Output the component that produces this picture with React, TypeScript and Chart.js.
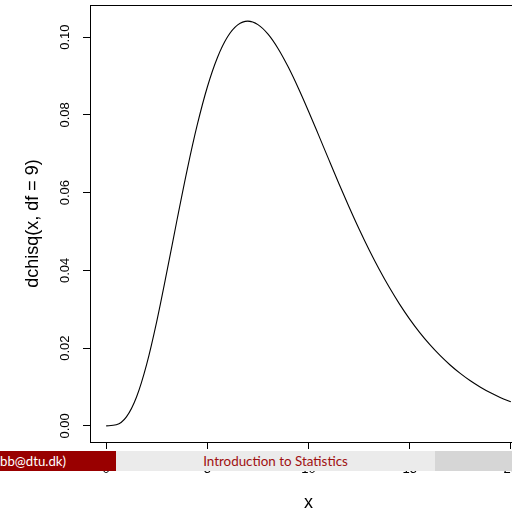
import React, { useEffect, useRef } from "react";
import { Chart, registerables } from "chart.js";

Chart.register(...registerables);

const xValues = [
  0, 0.5, 1, 1.5, 2, 2.5, 3, 3.5, 4, 4.5, 5, 5.5, 6, 6.5, 7, 7.5, 8, 8.5, 9, 9.5,
  10, 10.5, 11, 11.5, 12, 12.5, 13, 13.5, 14, 14.5, 15, 15.5, 16, 16.5, 17, 17.5,
  18, 18.5, 19, 19.5, 20,
];
const densityValues = [
  0, 0.00026, 0.0023, 0.00742, 0.01581, 0.02689, 0.03965, 0.05296, 0.06582,
  0.07741, 0.08718, 0.09477, 0.10009, 0.10315, 0.10412, 0.10324, 0.10078,
  0.09704, 0.09231, 0.08687, 0.08096, 0.07479, 0.06855, 0.06237, 0.05638,
  0.05065, 0.04525, 0.04022, 0.03557, 0.03132, 0.02747, 0.02399, 0.02088,
  0.01811, 0.01566, 0.0135, 0.0116, 0.00995, 0.0085, 0.00725, 0.00617,
];
const xTicks = [0, 5, 10, 15, 20];
const yTicks = [0, 0.02, 0.04, 0.06, 0.08, 0.1];
const xTitle = "x";
const yTitle = "dchisq(x, df = 9)";
const footerLeft = "bb@dtu.dk)";
const footerMid = "Introduction to Statistics";

const FONT = "'Liberation Sans', Arial, Helvetica, sans-serif";
const FOOT_FONT = "Lato, 'DejaVu Sans', sans-serif";

const boxPlugin = {
  id: "rbox",
  afterDraw(chart: any) {
    const { ctx, chartArea } = chart;
    ctx.save();
    ctx.strokeStyle = "#000";
    ctx.lineWidth = 1;
    ctx.strokeRect(
      Math.round(chartArea.left) + 0.5,
      Math.round(chartArea.top) + 0.5,
      Math.round(chartArea.right - chartArea.left),
      Math.round(chartArea.bottom - chartArea.top)
    );
    ctx.restore();
  },
};

export default function App() {
  const canvasRef = useRef<HTMLCanvasElement | null>(null);

  useEffect(() => {
    if (!canvasRef.current) return;
    const chart = new Chart(canvasRef.current, {
      type: "line",
      data: {
        datasets: [
          {
            data: xValues.map((x, i) => ({ x, y: densityValues[i] })),
            borderColor: "#000",
            borderWidth: 1.1,
            pointRadius: 0,
            fill: false,
            cubicInterpolationMode: "monotone",
          },
        ],
      },
      options: {
        animation: false,
        responsive: false,
        events: [],
        layout: { padding: { top: 5, left: 0, right: 0, bottom: 0 } },
        plugins: { legend: { display: false }, tooltip: { enabled: false } },
        scales: {
          x: {
            type: "linear",
            min: -0.8,
            max: 20.8,
            afterFit: (s: any) => {
              s.height = 78;
              s.paddingLeft = 0;
              s.paddingRight = 0;
            },
            afterBuildTicks: (s: any) => {
              s.ticks = xTicks.map((v) => ({ value: v }));
            },
            grid: {
              display: true,
              drawOnChartArea: false,
              drawTicks: true,
              tickLength: 7,
              color: "#000",
              lineWidth: 1,
            },
            border: { display: true, color: "#000", width: 1 },
            ticks: {
              color: "#000",
              font: { family: FONT, size: 13 },
              padding: 13,
              maxRotation: 0,
              minRotation: 0,
              autoSkip: false,
              callback: (v: any) => String(v),
            },
            title: {
              display: true,
              text: xTitle,
              color: "#000",
              font: { family: FONT, size: 18 },
              padding: { top: 0, bottom: 6 },
            },
          },
          y: {
            type: "linear",
            min: -0.00416,
            max: 0.10828,
            afterFit: (s: any) => {
              s.width = 90;
              s.paddingTop = 0;
              s.paddingBottom = 0;
            },
            afterBuildTicks: (s: any) => {
              s.ticks = yTicks.map((v) => ({ value: v }));
            },
            grid: {
              display: true,
              drawOnChartArea: false,
              drawTicks: true,
              tickLength: 7,
              color: "#000",
              lineWidth: 1,
            },
            border: { display: true, color: "#000", width: 1 },
            ticks: {
              color: "#000",
              font: { family: FONT, size: 13 },
              padding: 5,
              minRotation: 90,
              maxRotation: 90,
              crossAlign: "center",
              autoSkip: false,
              callback: (v: any) => Number(v).toFixed(2),
            },
            title: {
              display: true,
              text: yTitle,
              color: "#000",
              font: { family: FONT, size: 18 },
              padding: { top: 22, bottom: 0 },
            },
          },
        },
      },
      plugins: [boxPlugin],
    } as any);
    return () => chart.destroy();
  }, []);

  return (
    <div
      style={{
        position: "absolute",
        left: 0,
        top: 0,
        width: 512,
        height: 509,
        overflow: "hidden",
        background: "#fff",
      }}
    >
      <canvas ref={canvasRef} width={527} height={520} style={{ display: "block" }} />
      <div
        style={{
          position: "absolute",
          left: 0,
          top: 451,
          width: 116,
          height: 20,
          background: "#990000",
          overflow: "hidden",
        }}
      >
        <span
          style={{
            position: "absolute",
            right: 50,
            top: 0,
            lineHeight: "20px",
            color: "#fff",
            fontFamily: FOOT_FONT,
            fontSize: 13.2,
            whiteSpace: "nowrap",
          }}
        >
          {footerLeft}
        </span>
      </div>
      <div
        style={{
          position: "absolute",
          left: 116,
          top: 451,
          width: 319,
          height: 20,
          background: "#EBEBEB",
          textAlign: "center",
          lineHeight: "20px",
          color: "#A01010",
          fontFamily: FOOT_FONT,
          fontSize: 13.4,
          whiteSpace: "nowrap",
        }}
      >
        {footerMid}
      </div>
      <div
        style={{
          position: "absolute",
          left: 435,
          top: 451,
          width: 77,
          height: 20,
          background: "#D6D6D6",
        }}
      />
    </div>
  );
}
